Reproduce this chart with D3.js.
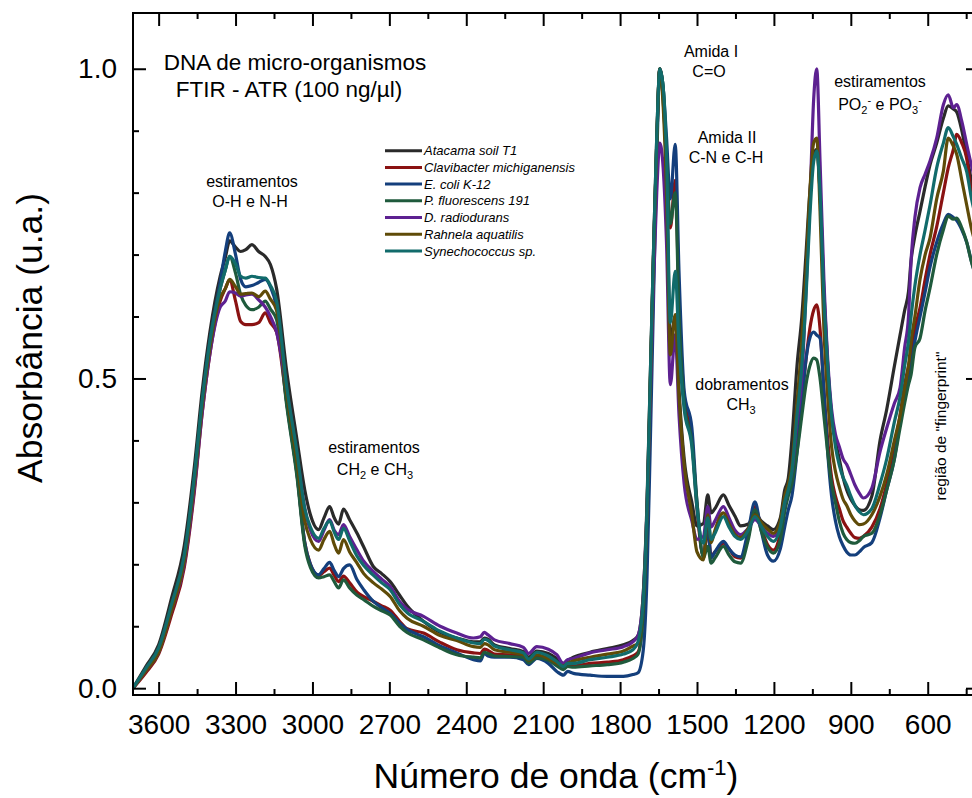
<!DOCTYPE html>
<html>
<head>
<meta charset="utf-8">
<script src="https://cdn.jsdelivr.net/npm/d3@7"></script>
<style>
  body { margin: 0; background: #fff; overflow: hidden; }
  svg { font-family: "Liberation Sans", Arial, sans-serif; }
</style>
</head>
<body>
<script>
// numero de onda (cm-1), do maior para o menor
const wavenumbers = [
  3700, 3650, 3600, 3550, 3500, 3460, 3430, 3400, 3360,
  3340, 3323, 3300, 3280, 3260, 3236, 3210, 3184, 3164, 3140, 3100, 3060, 3030, 3008, 2976,
  2955, 2933, 2915, 2898, 2879, 2855, 2826, 2800, 2762, 2730, 2697, 2660, 2631, 2567, 2502, 2437, 2372,
  2345, 2330, 2315, 2290, 2230, 2177, 2157, 2125, 2080, 2047, 2021, 2005, 1982, 1917, 1850, 1787, 1750,
  1730, 1710, 1695, 1683, 1670, 1657, 1645, 1632, 1619, 1604, 1585, 1570, 1550,
  1520, 1500, 1475, 1458, 1445, 1430, 1397, 1375, 1352, 1330, 1300, 1274, 1250, 1225, 1202, 1175, 1158, 1144,
  1130, 1110, 1091, 1075, 1060, 1045, 1033, 1020, 1005, 990, 975, 960, 945, 930, 916, 900, 884, 867, 851,
  818, 786, 760, 730, 708, 690, 675, 665, 650, 630, 610, 591, 565, 539, 520, 500, 487, 467, 448, 430, 400
]

const atacama = [
  0.0, .035, .07, .145, .23, .36, .48, .575, .665,
  .695, .722, .712, .705, .708, .716, .705, .697, .684, .645, .51, .40, .32, .28, .256,
  .275, .293, .275, .265, .289, .272, .250, .228, .196, .185, .172, .150, .133, .108, .090, .081, .075,
  .075, .081, .079, .070, .064, .059, .050, .060, .056, .048, .040, .045, .050, .058, .064, .070, .077,
  .085, .15, .30, .49, .70, .89, 1.0, .95, .84, .56, .60, .48, .37,
  .30, .262, .266, .312, .283, .29, .312, .295, .278, .262, .265, .283, .27, .262, .256, .275, .32, .339,
  .40, .52, .60, .70, .80, .86, .87, .80, .64, .52, .44, .40, .37, .34, .32, .305, .295, .288, .287,
  .31, .40, .45, .52, .57, .61, .64, .69, .73, .77, .81, .845, .88, .92, .94, .935, .93, .90, .86, .82, .76
]
const clavibacter = [
  0.0, .025, .055, .118, .195, .32, .445, .54, .625,
  .645, .659, .625, .592, .587, .587, .59, .606, .59, .575, .46, .345, .235, .20, .182,
  .188, .194, .182, .172, .181, .170, .155, .148, .140, .133, .126, .108, .096, .089, .074, .062, .057,
  .056, .063, .061, .055, .054, .054, .045, .052, .047, .038, .032, .036, .036, .040, .042, .046, .052,
  .058, .12, .27, .47, .69, .88, 1.0, .96, .85, .743, .82, .62, .47,
  .404, .29, .213, .256, .213, .22, .234, .225, .212, .21, .245, .293, .26, .232, .223, .25, .29, .32,
  .34, .40, .47, .53, .58, .61, .619, .58, .48, .40, .34, .31, .29, .27, .26, .25, .243, .242, .245,
  .26, .29, .33, .39, .44, .49, .52, .54, .58, .614, .66, .70, .745, .80, .84, .87, .894, .88, .855, .80, .75
]
const ecoli = [
  0.0, .03, .06, .13, .21, .34, .46, .56, .655,
  .705, .735, .70, .66, .648, .65, .655, .66, .648, .615, .46, .345, .235, .20, .183,
  .193, .203, .190, .180, .193, .199, .175, .159, .140, .130, .121, .105, .095, .083, .068, .057, .046,
  .044, .056, .052, .050, .050, .046, .038, .048, .040, .027, .021, .027, .024, .021, .019, .019, .022,
  .025, .06, .18, .38, .62, .85, 1.0, .97, .89, .79, .878, .67, .48,
  .42, .30, .213, .26, .21, .22, .237, .225, .215, .212, .255, .301, .255, .215, .205, .225, .26, .288,
  .31, .38, .46, .53, .565, .575, .57, .565, .48, .38, .31, .27, .245, .23, .22, .215, .215, .22, .227,
  .235, .275, .32, .37, .43, .47, .50, .52, .56, .60, .64, .68, .72, .75, .765, .76, .755, .74, .72, .69, .65
]
const pfluorescens = [
  0.0, .03, .062, .13, .21, .34, .46, .555, .645,
  .675, .697, .67, .635, .618, .611, .615, .625, .612, .595, .455, .34, .23, .195, .178,
  .180, .183, .172, .162, .175, .162, .150, .143, .132, .125, .118, .100, .090, .078, .065, .054, .050,
  .049, .058, .056, .052, .051, .050, .041, .049, .045, .036, .030, .035, .034, .036, .038, .042, .048,
  .055, .12, .27, .47, .69, .88, 1.0, .97, .86, .75, .80, .60, .46,
  .396, .30, .21, .229, .202, .21, .229, .215, .204, .202, .24, .288, .255, .228, .218, .24, .285, .31,
  .33, .38, .44, .49, .52, .533, .53, .50, .44, .38, .33, .30, .27, .25, .24, .235, .234, .238, .245,
  .25, .28, .32, .37, .42, .46, .49, .506, .55, .565, .61, .646, .70, .74, .762, .757, .759, .743, .72, .689, .65
]
const dradiodurans = [
  0.0, .028, .058, .125, .20, .325, .445, .54, .615,
  .625, .640, .638, .633, .635, .636, .627, .615, .60, .575, .48, .375, .29, .255, .237,
  .255, .272, .255, .248, .264, .245, .223, .205, .188, .176, .164, .140, .128, .116, .100, .089, .081,
  .083, .090, .086, .078, .072, .066, .056, .067, .063, .054, .040, .046, .048, .057, .062, .067, .075,
  .085, .15, .29, .46, .65, .80, .88, .84, .72, .49, .571, .44, .33,
  .27, .24, .245, .293, .26, .27, .293, .275, .255, .248, .258, .272, .262, .25, .245, .265, .30, .326,
  .35, .43, .50, .64, .78, .95, 1.0, .85, .66, .53, .45, .41, .39, .37, .361, .345, .328, .315, .307,
  .323, .382, .42, .46, .485, .55, .60, .69, .76, .808, .83, .851, .888, .942, .958, .937, .942, .915, .878, .845, .80
]
const rahnela = [
  0.0, .028, .058, .125, .205, .335, .455, .55, .63,
  .645, .660, .648, .636, .637, .638, .632, .641, .628, .61, .475, .365, .27, .24, .223,
  .240, .253, .232, .218, .240, .220, .202, .185, .170, .160, .148, .125, .113, .100, .085, .077, .067,
  .066, .072, .070, .062, .058, .054, .045, .054, .048, .040, .036, .040, .044, .050, .055, .060, .068,
  .072, .14, .29, .48, .69, .88, 1.0, .94, .80, .538, .603, .47, .36,
  .28, .22, .207, .28, .235, .255, .283, .265, .248, .243, .258, .28, .268, .257, .25, .27, .31, .33,
  .36, .46, .56, .67, .80, .88, .888, .77, .58, .47, .39, .35, .325, .305, .295, .28, .27, .264, .265,
  .28, .31, .345, .40, .44, .485, .52, .56, .60, .66, .70, .727, .79, .835, .888, .875, .862, .82, .78, .743, .70
]
const synechococcus = [
  0.0, .032, .065, .135, .215, .345, .465, .56, .645,
  .675, .697, .685, .665, .662, .665, .663, .662, .65, .625, .485, .38, .29, .26, .242,
  .258, .270, .252, .240, .258, .238, .213, .198, .182, .170, .159, .135, .122, .108, .092, .081, .073,
  .072, .079, .077, .068, .062, .057, .047, .058, .052, .043, .035, .040, .040, .046, .050, .055, .062,
  .075, .14, .29, .49, .70, .89, 1.0, .97, .86, .59, .673, .55, .45,
  .39, .29, .234, .275, .24, .25, .277, .26, .245, .24, .255, .277, .262, .245, .237, .26, .30, .32,
  .35, .44, .52, .63, .76, .85, .867, .80, .63, .52, .44, .39, .36, .34, .328, .31, .295, .285, .28,
  .29, .33, .37, .43, .47, .52, .56, .60, .65, .70, .74, .78, .84, .88, .905, .89, .878, .855, .834, .792, .74
]

const seriesNames = ["Atacama soil T1", "Clavibacter michiganensis", "E. coli K-12", "P. fluorescens 191",
                     "D. radiodurans", "Rahnela aquatilis", "Synechococcus sp."]
const seriesValues = [atacama, clavibacter, ecoli, pfluorescens, dradiodurans, rahnela, synechococcus]
const seriesColors = ["#2a2a2a", "#8a1212", "#143f7c", "#1f5a3c", "#5d2191", "#5f4b08", "#116b6b"]

const xTicks = [3600, 3300, 3000, 2700, 2400, 2100, 1800, 1500, 1200, 900, 600]
const yTicks = [0.0, 0.5, 1.0]

const width = 972, height = 798
const plotLeft = 133, plotRight = 979, plotTop = 13, plotBottom = 695

const x = d3.scaleLinear().domain([3700, 400]).range([plotLeft, plotRight])
const y = d3.scaleLinear().domain([-0.011, 1.09]).range([plotBottom, plotTop])

const xMinor = d3.range(3450, 400, -300)
const yMinor = d3.range(0.1, 1.05, 0.1).filter(v => Math.abs(v - 0.5) > 0.01 && Math.abs(v - 1) > 0.01)

const svg = d3.select("body").append("svg")
    .attr("width", width)
    .attr("height", height)

svg.append("defs").append("clipPath").attr("id", "plot")
  .append("rect").attr("x", plotLeft).attr("y", plotTop)
    .attr("width", plotRight - plotLeft).attr("height", plotBottom - plotTop)

// curvas
const line = d3.line()
    .x((d, i) => x(wavenumbers[i]))
    .y(d => y(d))
    .curve(d3.curveMonotoneX)

svg.append("g")
    .attr("clip-path", "url(#plot)")
  .selectAll("path")
  .data(seriesValues)
  .join("path")
    .attr("d", line)
    .attr("fill", "none")
    .attr("stroke", (d, i) => seriesColors[i])
    .attr("stroke-width", 3.2)
    .attr("stroke-linejoin", "round")

// eixos (ticks para dentro)
function styleAxis(g) {
    g.select(".domain").remove()
    g.selectAll(".tick line").attr("stroke", "#000").attr("stroke-width", 2)
    g.selectAll(".tick text").attr("fill", "#000").style("font-size", "28px")
        .style("font-family", '"Liberation Sans", Arial, sans-serif')
}

svg.append("g").attr("transform", `translate(0,${plotBottom})`)
    .call(d3.axisBottom(x).tickValues(xTicks).tickSize(-13).tickPadding(19).tickFormat(d3.format("d")))
    .call(styleAxis)
svg.append("g").attr("transform", `translate(0,${plotBottom})`)
    .call(d3.axisBottom(x).tickValues(xMinor).tickSize(-6).tickFormat(""))
    .call(styleAxis)
svg.append("g").attr("transform", `translate(0,${plotTop})`)
    .call(d3.axisTop(x).tickValues(xTicks).tickSize(-13).tickFormat(""))
    .call(styleAxis)
svg.append("g").attr("transform", `translate(0,${plotTop})`)
    .call(d3.axisTop(x).tickValues(xMinor).tickSize(-6).tickFormat(""))
    .call(styleAxis)

svg.append("g").attr("transform", `translate(${plotLeft},0)`)
    .call(d3.axisLeft(y).tickValues(yTicks).tickSize(-13).tickPadding(16).tickFormat(d3.format(".1f")))
    .call(styleAxis)
svg.append("g").attr("transform", `translate(${plotLeft},0)`)
    .call(d3.axisLeft(y).tickValues(yMinor).tickSize(-6).tickFormat(""))
    .call(styleAxis)
svg.append("g").attr("transform", `translate(${plotRight},0)`)
    .call(d3.axisRight(y).tickValues(yTicks).tickSize(-13).tickFormat(""))
    .call(styleAxis)
svg.append("g").attr("transform", `translate(${plotRight},0)`)
    .call(d3.axisRight(y).tickValues(yMinor).tickSize(-6).tickFormat(""))
    .call(styleAxis)

svg.append("rect")
    .attr("x", plotLeft).attr("y", plotTop)
    .attr("width", plotRight - plotLeft).attr("height", plotBottom - plotTop)
    .attr("fill", "none").attr("stroke", "#000").attr("stroke-width", 2)

// titulos dos eixos
const xTitle = svg.append("text")
    .attr("x", (plotLeft + plotRight) / 2).attr("y", 788)
    .attr("text-anchor", "middle")
    .style("font-size", "35.5px")
xTitle.append("tspan").text("Número de onda (cm")
xTitle.append("tspan").attr("dy", -13).style("font-size", "22px").text("-1")
xTitle.append("tspan").attr("dy", 13).text(")")

svg.append("text")
    .attr("transform", "translate(42,338) rotate(-90)")
    .attr("text-anchor", "middle")
    .style("font-size", "35.5px")
    .text("Absorbância (u.a.)")

// anotacoes
function note(cx, cy, parts, size) {
    const t = svg.append("text")
        .attr("x", cx).attr("y", cy)
        .attr("text-anchor", "middle")
        .style("font-size", size + "px")
    parts.forEach(p => {
        const s = t.append("tspan").text(p.t)
        if (p.dy) s.attr("dy", p.dy)
        if (p.small) s.style("font-size", Math.round(size * 0.68) + "px")
    })
    return t
}

note(295, 70, [{t: "DNA de micro-organismos"}], 22.5)
note(289, 97, [{t: "FTIR - ATR (100 ng/µl)"}], 22.5)

note(252, 187, [{t: "estiramentos"}], 16)
note(250, 207, [{t: "O-H e N-H"}], 16)

note(374, 453, [{t: "estiramentos"}], 16)
note(375, 475, [{t: "CH"}, {t: "2", dy: 4, small: true}, {t: " e CH", dy: -4}, {t: "3", dy: 4, small: true}], 16)

note(711, 57, [{t: "Amida I"}], 16)
note(709, 77, [{t: "C=O"}], 16)

note(727, 143, [{t: "Amida II"}], 16)
note(726, 163, [{t: "C-N e C-H"}], 16)

note(880, 87, [{t: "estiramentos"}], 16)
note(880, 110, [{t: "PO"}, {t: "2", dy: 4, small: true}, {t: "-", dy: -10, small: true},
                {t: " e PO", dy: 6}, {t: "3", dy: 4, small: true}, {t: "-", dy: -10, small: true}], 16)

note(742, 390, [{t: "dobramentos"}], 16)
note(741, 410, [{t: "CH"}, {t: "3", dy: 4, small: true}], 16)

svg.append("text")
    .attr("transform", "translate(946,426) rotate(-90)")
    .attr("text-anchor", "middle")
    .style("font-size", "15.5px")
    .text("região de \"fingerprint\"")

// legenda
const legend = svg.append("g").attr("transform", "translate(385,150.7)")
const item = legend.selectAll("g")
  .data(seriesNames)
  .join("g")
    .attr("transform", (d, i) => `translate(0,${i * 16.7})`)
item.append("line")
    .attr("x1", 0).attr("x2", 37)
    .attr("stroke", (d, i) => seriesColors[i])
    .attr("stroke-width", 3)
item.append("text")
    .attr("x", 39).attr("dy", "0.36em")
    .style("font-size", "13px")
    .style("font-style", "italic")
    .text(d => d)
</script>
</body>
</html>
